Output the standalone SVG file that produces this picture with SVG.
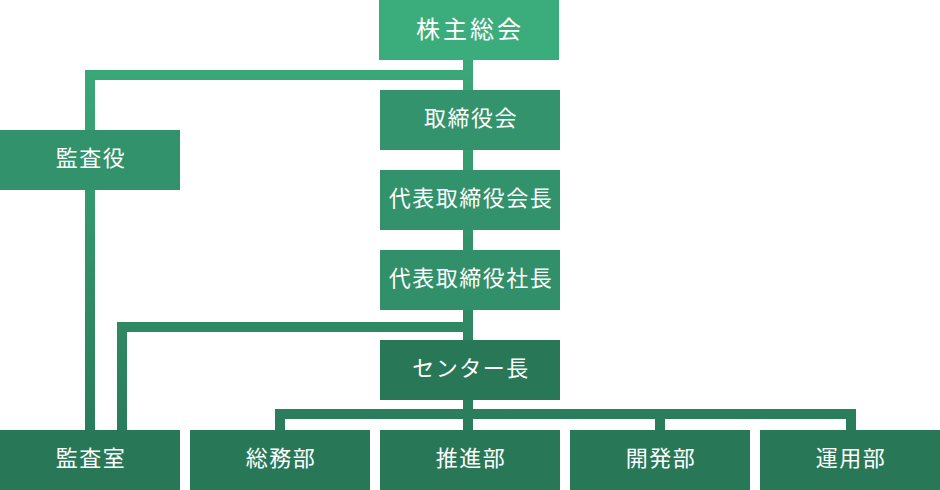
<svg xmlns="http://www.w3.org/2000/svg" width="940" height="490" viewBox="0 0 940 490">
<defs>
<linearGradient id="lg" gradientUnits="userSpaceOnUse" x1="0" y1="0" x2="0" y2="490">
<stop offset="0" stop-color="#3db07f"/>
<stop offset="1" stop-color="#277555"/>
</linearGradient>
</defs>
<style>
.t{font-family:"Noto Sans CJK JP","Noto Sans CJK SC",sans-serif;font-size:22px;fill:#ffffff;text-anchor:middle;dominant-baseline:central;letter-spacing:1.5px}
.c{fill:url(#lg)}
</style>
<rect width="940" height="490" fill="#ffffff"/>
<g id="connectors">
<rect class="c" x="463" y="60" width="10" height="30"/>
<rect class="c" x="85" y="70" width="388" height="10"/>
<rect class="c" x="85" y="70" width="10" height="60"/>
<rect class="c" x="463" y="150" width="10" height="20"/>
<rect class="c" x="463" y="230" width="10" height="20"/>
<rect class="c" x="85" y="190" width="10" height="240"/>
<rect class="c" x="463" y="310" width="10" height="30"/>
<rect class="c" x="117" y="322" width="356" height="10"/>
<rect class="c" x="117" y="322" width="10" height="108"/>
<rect class="c" x="463" y="400" width="10" height="30"/>
<rect class="c" x="275" y="409" width="581" height="10"/>
<rect class="c" x="275" y="409" width="10" height="21"/>
<rect class="c" x="655" y="409" width="10" height="21"/>
<rect class="c" x="846" y="409" width="10" height="21"/>
</g>
<g id="n1"><rect x="379" y="0" width="180" height="60" fill="#3bad7d"/><text class="t" x="470" y="27" style="font-size:24px;letter-spacing:3px">株主総会</text></g>
<g id="n2"><rect x="380" y="90" width="180" height="60" fill="#32936c"/><text class="t" x="471" y="116">取締役会</text></g>
<g id="n3"><rect x="0" y="130" width="180" height="60" fill="#32926b"/><text class="t" x="91" y="156">監査役</text></g>
<g id="n4"><rect x="380" y="170" width="180" height="60" fill="#32926b"/><text class="t" x="471" y="196">代表取締役会長</text></g>
<g id="n5"><rect x="380" y="250" width="180" height="60" fill="#31906a"/><text class="t" x="471" y="276">代表取締役社長</text></g>
<g id="n6"><rect x="380" y="340" width="180" height="60" fill="#287858"/><text class="t" x="471" y="366">センター長</text></g>
<g id="n7"><rect x="0" y="430" width="180" height="60" fill="#287858"/><text class="t" x="91" y="456">監査室</text></g>
<g id="n8"><rect x="190" y="430" width="180" height="60" fill="#287858"/><text class="t" x="281" y="456">総務部</text></g>
<g id="n9"><rect x="380" y="430" width="180" height="60" fill="#287858"/><text class="t" x="471" y="456">推進部</text></g>
<g id="n10"><rect x="570" y="430" width="180" height="60" fill="#287858"/><text class="t" x="661" y="456">開発部</text></g>
<g id="n11"><rect x="760" y="430" width="180" height="60" fill="#287858"/><text class="t" x="851" y="456">運用部</text></g>
</svg>
